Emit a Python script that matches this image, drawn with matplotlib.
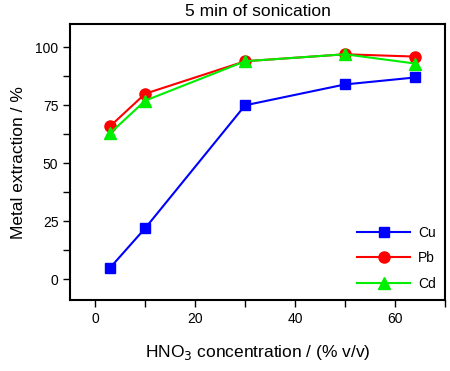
import matplotlib
matplotlib.use("Agg")
import matplotlib.pyplot as plt
from matplotlib.ticker import MultipleLocator

plt.rcParams['font.family'] = ['Liberation Sans', 'DejaVu Sans']

# HNO3 concentration (% v/v)
conc = [3, 10, 30, 50, 64]
cu = [5, 22, 75, 84, 87]
pb = [66, 80, 94, 97, 96]
cd = [63, 77, 94, 97, 93]

fig = plt.figure(figsize=(4.5, 3.71), dpi=100)
ax = fig.add_axes([0.156, 0.191, 0.833, 0.744])

ax.plot(conc, cu, '-s', color='#0000ff', ms=7.5, lw=1.5, label='Cu')
ax.plot(conc, pb, '-o', color='#ff0000', ms=8, lw=1.5, label='Pb')
ax.plot(conc, cd, '-^', color='#00ee00', ms=8, lw=1.5, label='Cd')

ax.set_xlim(-5, 70)
ax.set_ylim(-9, 110)
ax.xaxis.set_major_locator(MultipleLocator(20))
ax.xaxis.set_minor_locator(MultipleLocator(10))
ax.yaxis.set_major_locator(MultipleLocator(25))
ax.yaxis.set_minor_locator(MultipleLocator(12.5))
ax.tick_params(which='both', direction='out', length=5, width=1, labelsize=10)
for s in ax.spines.values():
    s.set_linewidth(1.5)

ax.set_title('5 min of sonication', fontsize=12.5, pad=6)
ax.set_xlabel('HNO$_3$ concentration / (% v/v)', fontsize=12.5, labelpad=12)
ax.set_ylabel('Metal extraction / %', fontsize=12.5, labelpad=7)

ax.legend(loc='lower right', frameon=False, handlelength=3.8, fontsize=10,
          labelspacing=0.85, borderaxespad=0.25, handletextpad=0.6)

fig.savefig('out.png', dpi=100)
